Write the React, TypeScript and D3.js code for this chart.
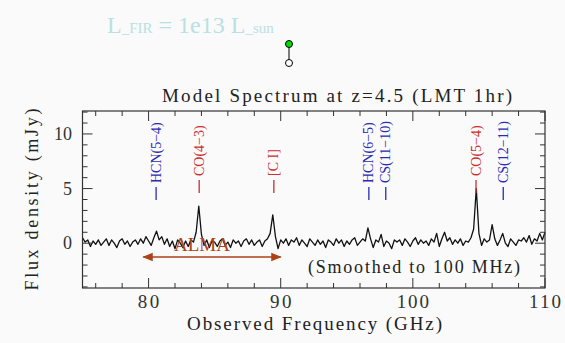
import React from "react";
import * as d3 from "d3";

const FREQ_START = 75.0;
const FREQ_STEP = 0.2;
const fluxValues: number[] = [
  0.5, 0.1, 0.3, -0.3, 0.2, -0.1, 0.3, -0.2, 0.1, 0.4,
  -0.2, 0.3, 0.0, -0.4, 0.2, 0.4, -0.1, 0.2, -0.3, 0.1,
  0.3, -0.1, 0.4, 0.0, 0.6, 0.2, -0.2, 0.5, 1.1, 0.3,
  0.6, -0.1, 0.4, -0.3, 0.2, -0.5, 0.3, 0.0, -0.4, 0.2,
  -0.3, 0.3, 0.1, 1.0, 3.4, 0.8, -0.2, 0.3, -0.4, 0.2,
  0.1, -0.3, 0.2, 0.4, -0.2, 0.1, -0.4, 0.3, 0.0, 0.2,
  -0.3, 0.2, 0.4, -0.1, 0.3, -0.2, 0.1, 0.3, -0.3, 0.2,
  0.4, 0.9, 2.6, 0.6, -0.5, 0.3, 0.0, 0.4, -0.2, 0.3,
  0.1, 0.5, -0.2, 0.3, 0.0, -0.3, 0.4, 0.1, -0.2, 0.3,
  -0.1, 0.2, -0.4, 0.3, 0.1, -0.2, 0.4, 0.0, 0.3, -0.3,
  0.2, -0.1, 0.3, 0.5, -0.2, 0.1, 0.4, 0.2, 1.4, 0.4,
  -0.4, 0.3, 0.1, 0.8, -0.3, 0.2, 0.0, -0.5, 0.3, 0.1,
  0.3, -0.2, 0.4, 0.1, -0.3, 0.2, 0.5, -0.1, 0.3, 0.0,
  0.2, -0.2, 0.4, 0.1, 0.9, -0.3, 0.4, 1.0, 0.2, 0.5,
  -0.1, 0.3, 0.0, 0.4, -0.2, 0.2, 0.1, 0.5, 1.3, 5.0,
  0.9, -0.2, 0.4, 0.1, 0.3, 1.7, 0.4, -0.2, 0.3, 0.9,
  0.0, -0.3, 0.4, 0.1, -0.2, 0.3, 0.2, 0.5, 0.1, 0.7,
  -0.1, 0.4, 0.2, 0.9, 0.3, 1.0,
];

const lineNames = ["HCN(5\u22124)", "CO(4\u22123)", "[C I]", "HCN(6\u22125)", "CS(11\u221210)", "CO(5\u22124)", "CS(12\u221211)"];
const lineFreqs = [80.57, 83.83, 89.48, 96.67, 97.95, 104.78, 106.84];
const lineKinds = ["blue", "red", "red", "blue", "blue", "red", "blue"];

const xMajorTicks = [80, 90, 100, 110];
const yMajorTicks = [0, 5, 10];
const xDomain = [75, 110];
const yDomain = [-4.1, 12.1];
const almaRange = [79.6, 90.0];

const W = 565, H = 343;
const L = 82.5, R = 545, T = 111, B = 288;

export default function App() {
  const x = d3.scaleLinear().domain(xDomain).range([L, R]);
  const y = d3.scaleLinear().domain(yDomain).range([B, T]);
  const pts = fluxValues.map((v, i) => [FREQ_START + i * FREQ_STEP, v] as [number, number]);
  const path = d3.line<[number, number]>().x(d => x(d[0])).y(d => y(d[1]))(pts) || "";

  const xMinor = d3.range(76, 110.01, 2).filter(v => !xMajorTicks.includes(v));
  const yMinor = d3.range(-4, 12.01, 1).filter(v => !yMajorTicks.includes(v));
  const MAJ = 10, MIN = 5;
  const axisColor = "#333";
  const serif = "'Liberation Serif', 'DejaVu Serif', serif";
  const colors: Record<string, string> = { blue: "#2a2ab4", red: "#cc2f2f" };
  const almaColor = "#ad4216";

  return (
    <svg width={W} height={H} style={{ position: "absolute", left: 0, top: 0 }}>
      <defs>
        <marker id="ah" viewBox="0 0 10 10" refX="9" refY="5" markerWidth="7" markerHeight="7" orient="auto-start-reverse">
          <path d="M0,1 L10,5 L0,9 z" fill={almaColor} />
        </marker>
      </defs>
      <rect width={W} height={H} fill="#fafafa" />

      {/* header */}
      <text x={107} y={33} fill="#b9e1e3" fontFamily={serif} fontSize={24}>
        <tspan>L</tspan>
        <tspan fontSize={15}>_FIR</tspan>
        <tspan>{" = 1e13 L"}</tspan>
        <tspan fontSize={15}>_sun</tspan>
      </text>
      <line x1={289} y1={44} x2={289} y2={63} stroke="#000" strokeWidth={1} />
      <circle cx={289} cy={44} r={3.5} fill="#00e000" stroke="#000" strokeWidth={1} />
      <circle cx={289} cy={63} r={3.5} fill="#fff" stroke="#000" strokeWidth={1} />

      <text x={162} y={102} fontFamily={serif} fontSize={19} fill="#222" textLength={350} lengthAdjust="spacing">
        Model Spectrum at z=4.5 (LMT 1hr)
      </text>

      {/* spectrum */}
      <path d={path} fill="none" stroke="#111" strokeWidth={1.3} strokeLinejoin="round" />

      {/* frame & ticks */}
      <rect x={L} y={T} width={R - L} height={B - T} fill="none" stroke={axisColor} strokeWidth={1.2} />
      {xMajorTicks.concat(xMinor).map(v => {
        const len = xMajorTicks.includes(v) ? MAJ : MIN;
        return (
          <g key={"xt" + v} stroke={axisColor} strokeWidth={1}>
            <line x1={x(v)} x2={x(v)} y1={B} y2={B - len} />
            <line x1={x(v)} x2={x(v)} y1={T} y2={T + len} />
          </g>
        );
      })}
      {yMajorTicks.concat(yMinor).map(v => {
        const len = yMajorTicks.includes(v) ? MAJ : MIN;
        return (
          <g key={"yt" + v} stroke={axisColor} strokeWidth={1}>
            <line x1={L} x2={L + len} y1={y(v)} y2={y(v)} />
            <line x1={R} x2={R - len} y1={y(v)} y2={y(v)} />
          </g>
        );
      })}
      {xMajorTicks.map(v => {
        const s = String(v);
        return (
          <text key={"xl" + v} x={x(v)} y={308} textAnchor="middle" fontFamily={serif} fontSize={19} fill="#333"
            textLength={s.length * 10.7} lengthAdjust="spacing">{s}</text>
        );
      })}
      {yMajorTicks.map(v => {
        const s = String(v);
        return (
          <text key={"yl" + v} x={72} y={y(v)} dy="0.34em" textAnchor="end" fontFamily={serif} fontSize={18} fill="#333">{s}</text>
        );
      })}
      <text x={187} y={330} fontFamily={serif} fontSize={19} fill="#222" textLength={255} lengthAdjust="spacing">
        Observed Frequency (GHz)
      </text>
      <text transform={`translate(37.5,${(T + B) / 2 + 91}) rotate(-90)`} fontFamily={serif} fontSize={18} fill="#222"
        textLength={182} lengthAdjust="spacing">
        Flux density (mJy)
      </text>

      {/* line labels */}
      {lineNames.map((n, i) => {
        const y0 = lineKinds[i] === "red" ? 193 : 200;
        const cx = x(lineFreqs[i]);
        const c = colors[lineKinds[i]];
        return (
          <g key={n}>
            <line x1={cx} x2={cx} y1={y0} y2={y0 - 13} stroke={c} strokeWidth={1.3} />
            <text transform={`translate(${cx},${y0 - 17}) rotate(-90)`} dominantBaseline="central"
              fontFamily={serif} fontSize={14} fill={c}>
              {n}
            </text>
          </g>
        );
      })}

      <text x={308} y={273} fontFamily={serif} fontSize={18} fill="#222" textLength={212} lengthAdjust="spacing">
        (Smoothed to 100 MHz)
      </text>

      {/* ALMA */}
      <line x1={x(almaRange[0])} x2={x(almaRange[1])} y1={257} y2={257} stroke={almaColor} strokeWidth={1.5}
        markerStart="url(#ah)" markerEnd="url(#ah)" />
      <text x={202} y={251} textAnchor="middle" fontFamily={serif} fontSize={19} fill={almaColor}>ALMA</text>
    </svg>
  );
}
